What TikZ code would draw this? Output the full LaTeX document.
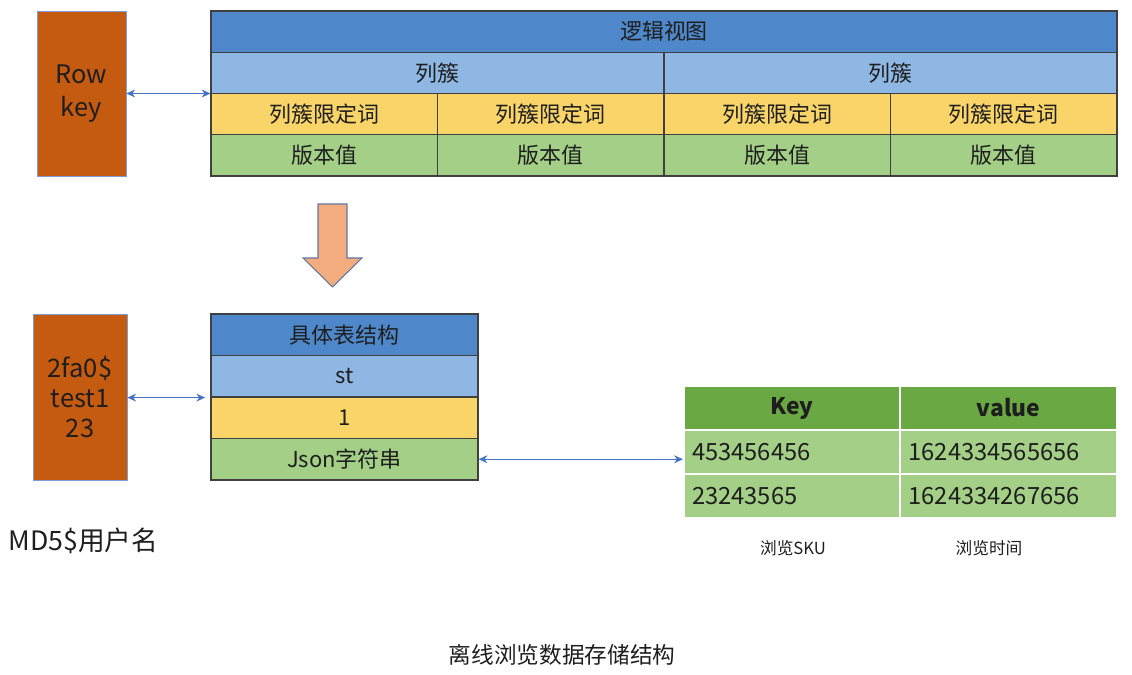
\documentclass[tikz,border=0pt]{standalone}
\usepackage{fontspec}
\setmainfont{Noto Sans CJK SC}
\usepackage{tikz}
\usetikzlibrary{arrows.meta, calc, positioning}
\usepackage{xcolor}

\definecolor{keybrown}{HTML}{C55A11}
\definecolor{hdblue}{HTML}{4E88CA}
\definecolor{ltblue}{HTML}{8FB7E3}
\definecolor{cellyellow}{HTML}{F9D468}
\definecolor{cellgreen}{HTML}{A3CF86}
\definecolor{kvdark}{HTML}{6AA843}
\definecolor{kvlight}{HTML}{A3CF86}
\definecolor{linkblue}{HTML}{4472C4}
\definecolor{bigarrow}{HTML}{F3AC7E}
\definecolor{txt}{HTML}{1E1E1E}

\tikzset{
  cell/.style={draw=black!75, line width=0.7pt, inner sep=0pt, text=txt,
    font=\fontsize{12.5}{15}\selectfont},
  keybox/.style={draw=linkblue!70, fill=keybrown, inner sep=0pt, text=txt, align=center,
    font=\fontsize{14.5}{19}\selectfont},
  kvcell/.style={draw=white, line width=1.2pt, inner sep=0pt, text=txt,
    font=\fontsize{13.5}{15}\selectfont},
  link/.style={linkblue, line width=0.6pt, {Stealth[length=5pt,width=4.5pt]}-{Stealth[length=5pt,width=4.5pt]}},
  note/.style={text=txt, inner sep=0pt}
}

\begin{document}
\begin{tikzpicture}[x=0.02cm, y=-0.02cm]
    \useasboundingbox (0,0) rectangle (1132,675);

    % logical view
    \node[keybox, minimum width=1.78cm, minimum height=3.3cm] (rowkey) at (81.5,93.5) {Row\\key};
    \node[cell, fill=hdblue, minimum width=18.12cm, minimum height=0.825cm] (logic) at (664,31.6) {逻辑视图};
    \node[cell, fill=ltblue, minimum width=9.06cm, minimum height=0.825cm] (famA) at (437.5,72.9) {列簇};
    \node[cell, fill=ltblue, minimum width=9.06cm, minimum height=0.825cm] (famB) at (890.5,72.9) {列簇};
    \foreach \cx [count=\i] in {324.25, 550.75, 777.25, 1003.75} {
        \node[cell, fill=cellyellow, minimum width=4.53cm, minimum height=0.825cm] (qual\i) at (\cx,114.1) {列簇限定词};
        \node[cell, fill=cellgreen, minimum width=4.53cm, minimum height=0.825cm] (ver\i) at (\cx,155.4) {版本值};
    }
    \draw[link] (rowkey.east) -- (rowkey.east -| famA.west);

    % down arrow
    \draw[fill=bigarrow, draw=linkblue!50!gray, line width=0.6pt]
        (318,204) -- (347,204) -- (347,258) -- (362,258) -- (332.5,287) -- (303,258) -- (318,258) -- cycle;

    % concrete table
    \node[keybox, minimum width=1.88cm, minimum height=3.32cm, font=\fontsize{14.5}{17}\selectfont] (userkey) at (80,397) {2fa0\$\\test1\\23};
    \node[cell, fill=hdblue, minimum width=5.34cm, minimum height=0.83cm] (tname) at (344.5,334.75) {具体表结构};
    \node[cell, fill=ltblue, minimum width=5.34cm, minimum height=0.83cm] (tfam) at (344.5,376.25) {st};
    \node[cell, fill=cellyellow, minimum width=5.34cm, minimum height=0.83cm] (tqual) at (344.5,417.75) {1};
    \node[cell, fill=cellgreen, minimum width=5.34cm, minimum height=0.83cm] (tjson) at (344.5,459.25) {Json字符串};
    \draw[link, shorten >=3pt] (userkey.east |- tfam.south) -- (tfam.south west);

    % key / value
    \node[kvcell, fill=kvdark, minimum width=4.32cm, minimum height=0.88cm, font=\fontsize{13}{15}\bfseries] (kvkey) at (792,408) {Key};
    \node[kvcell, fill=kvdark, minimum width=4.34cm, minimum height=0.88cm, font=\fontsize{13}{15}\bfseries] (kvval) at (1008.5,408) {value};
    \node[kvcell, fill=kvlight, minimum width=4.32cm, minimum height=0.88cm, text width=4.0cm] (sku1) at (792,452) {453456456};
    \node[kvcell, fill=kvlight, minimum width=4.34cm, minimum height=0.88cm, text width=4.0cm] (time1) at (1008.5,452) {1624334565656};
    \node[kvcell, fill=kvlight, minimum width=4.32cm, minimum height=0.88cm, text width=4.0cm] (sku2) at (792,496) {23243565};
    \node[kvcell, fill=kvlight, minimum width=4.34cm, minimum height=0.88cm, text width=4.0cm] (time2) at (1008.5,496) {1624334267656};
    \draw[link] (tjson.east) -- (tjson.east -| sku1.west);

    \node[note, font=\fontsize{9.5}{11}\selectfont] (skulabel) at (793,548) {浏览SKU};
    \node[note, font=\fontsize{9.5}{11}\selectfont] (timelabel) at (989,548) {浏览时间};
    \node[note, anchor=west, font=\fontsize{15.2}{17}\selectfont] (md5) at (8,541) {MD5\$用户名};
    \node[note, font=\fontsize{12.9}{15}\selectfont] (caption) at (562,655) {离线浏览数据存储结构};
\end{tikzpicture}
\end{document}
